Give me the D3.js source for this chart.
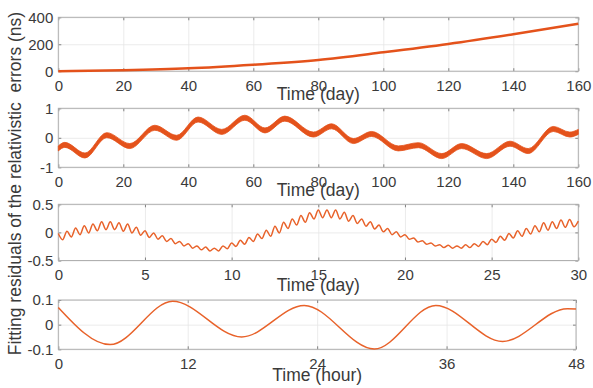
<!DOCTYPE html>
<html>
<head>
<meta charset="utf-8">
<script src="https://cdn.jsdelivr.net/npm/d3@7"></script>
<style>
  body { margin: 0; background: #fff; }
  svg { display: block; font-family: "Liberation Sans", Arial, sans-serif; }
</style>
</head>
<body>
<div id="chart"></div>
<script>
// Panel 1: relativistic error over 160 days (ns)
const days1 = [0, 20, 40, 60, 80, 100, 120, 140, 160];
const err1 = [0, 7, 21, 48, 83, 140, 202, 274, 352];

// Panel 2: fitting residuals over 160 days, slow component (extrema) + band half width
const days2 = [0, 2, 8.2, 14.9, 22, 29.7, 36.4, 43, 50.3, 57.4, 63.6, 69.7, 78.5, 84.1,
  90.8, 96.4, 104.6, 110.8, 118, 124.1, 131.8, 139, 144.6, 152.3, 157.4, 160];
const res2 = [-0.36, -0.24, -0.6, 0.09, -0.28, 0.34, 0.0, 0.62, 0.2, 0.68, 0.25, 0.65, 0.11, 0.39,
  -0.11, 0.13, -0.36, -0.25, -0.62, -0.28, -0.62, -0.2, -0.45, 0.3, 0.11, 0.2];
const band2 = 0.085;

// Panel 3: residuals over 30 days, read every quarter day (alternating peaks / troughs)
const step3 = 0.25;
const res3 = [
  -0.02, -0.13, 0.02, -0.08, 0.08, -0.04, 0.12, -0.01, 0.15, 0.03, 0.19, 0.05,
  0.19, 0.05, 0.17, 0.02, 0.15, -0.01, 0.09, -0.05, 0.03, -0.09, -0.01, -0.12,
  -0.06, -0.16, -0.11, -0.20, -0.16, -0.24, -0.20, -0.28, -0.24, -0.31, -0.26, -0.33,
  -0.28, -0.33, -0.24, -0.29, -0.19, -0.25, -0.14, -0.21, -0.09, -0.16, -0.03, -0.11,
  0.04, -0.07, 0.11, -0.01, 0.18, 0.07, 0.24, 0.13, 0.30, 0.18, 0.35, 0.24,
  0.40, 0.26, 0.40, 0.26, 0.40, 0.24, 0.36, 0.20, 0.30, 0.16, 0.24, 0.11,
  0.19, 0.06, 0.13, 0.01, 0.07, -0.04, 0.01, -0.08, -0.04, -0.12, -0.10, -0.17,
  -0.15, -0.21, -0.19, -0.24, -0.22, -0.27, -0.23, -0.28, -0.24, -0.28, -0.22, -0.27,
  -0.20, -0.25, -0.16, -0.22, -0.12, -0.18, -0.07, -0.14, -0.02, -0.10, 0.03, -0.07,
  0.07, -0.03, 0.12, 0.01, 0.17, 0.04, 0.19, 0.07, 0.22, 0.09, 0.23, 0.10, 0.20
];
const days3 = res3.map((_, i) => i * step3);

// Panel 4: residuals over 48 hours (extrema)
const hours4 = [0, 4.8, 10.6, 17, 22.8, 29.3, 35, 41.2, 47.2, 48];
const res4 = [0.07, -0.081, 0.095, -0.05, 0.078, -0.099, 0.078, -0.068, 0.065, 0.063];

const width = 593;
const height = 388;
const left = 58.3;

const lineColor = '#e4521b';
const thinColor = '#e8622a';
const textColor = '#3a3a3a';
const gridColor = '#e6e6e6';
const boxColor = '#b0b0b0';
const tickColor = '#666666';

const panels = [
  { top: 17.3, bottom: 71.2, right: 578.3, xDomain: [0, 160], xTicks: d3.range(0, 161, 20),
    yDomain: [0, 400], yTicks: [0, 200, 400], label: 'Time (day)', labelGap: 29 },
  { top: 108.3, bottom: 167.3, right: 578.3, xDomain: [0, 160], xTicks: d3.range(0, 161, 20),
    yDomain: [-1, 1], yTicks: [-1, 0, 1], label: 'Time (day)', labelGap: 29 },
  { top: 204.3, bottom: 260.5, right: 578.3, xDomain: [0, 30], xTicks: d3.range(0, 31, 5),
    yDomain: [-0.5, 0.5], yTicks: [-0.5, 0, 0.5], label: 'Time (day)', labelGap: 30 },
  { top: 300, bottom: 349.3, right: 576, xDomain: [0, 48], xTicks: [0, 12, 24, 36, 48],
    yDomain: [-0.1, 0.1], yTicks: [-0.1, 0, 0.1], label: 'Time (hour)', labelGap: 32 },
];

const svg = d3.select('#chart')
  .append('svg')
  .attr('width', width)
  .attr('height', height);

const fmt = (d) => String(d);

panels.forEach((p, i) => {
  const x = d3.scaleLinear().domain(p.xDomain).range([left, p.right]);
  const y = d3.scaleLinear().domain(p.yDomain).range([p.bottom, p.top]);
  p.x = x;
  p.y = y;
  const h = p.bottom - p.top;
  const w = p.right - left;

  const g = svg.append('g').attr('class', 'panel' + (i + 1));

  // grid
  const gx = g.append('g')
    .attr('transform', `translate(0,${p.bottom})`)
    .call(d3.axisBottom(x).tickValues(p.xTicks).tickSize(-h).tickFormat(''));
  const gy = g.append('g')
    .attr('transform', `translate(${left},0)`)
    .call(d3.axisLeft(y).tickValues(p.yTicks).tickSize(-w).tickFormat(''));
  [gx, gy].forEach((a) => {
    a.select('.domain').remove();
    a.selectAll('line').attr('stroke', gridColor).attr('stroke-width', 0.8);
  });

  // inward tick marks on all four sides
  const tk = 3;
  const marks = [
    [d3.axisBottom(x).tickValues(p.xTicks), `translate(0,${p.bottom})`],
    [d3.axisTop(x).tickValues(p.xTicks), `translate(0,${p.top})`],
    [d3.axisLeft(y).tickValues(p.yTicks), `translate(${left},0)`],
    [d3.axisRight(y).tickValues(p.yTicks), `translate(${p.right},0)`],
  ];
  marks.forEach(([ax, tr]) => {
    const a = g.append('g').attr('transform', tr).call(ax.tickSize(-tk).tickFormat(''));
    a.select('.domain').remove();
    a.selectAll('line').attr('stroke', tickColor).attr('stroke-width', 0.8);
  });

  // box
  g.append('rect')
    .attr('x', left)
    .attr('y', p.top)
    .attr('width', w)
    .attr('height', h)
    .attr('fill', 'none')
    .attr('stroke', boxColor)
    .attr('stroke-width', 1);

  // tick labels
  const xl = g.append('g')
    .attr('transform', `translate(0,${p.bottom})`)
    .call(d3.axisBottom(x).tickValues(p.xTicks).tickSize(0).tickPadding(9).tickFormat(fmt));
  const yl = g.append('g')
    .attr('transform', `translate(${left},0)`)
    .call(d3.axisLeft(y).tickValues(p.yTicks).tickSize(0).tickPadding(5).tickFormat(fmt));
  [xl, yl].forEach((a) => {
    a.select('.domain').remove();
    a.selectAll('text')
      .attr('fill', textColor)
      .style('font-size', '15px')
      .style('font-family', '"Liberation Sans", Arial, sans-serif');
  });

  // axis title
  g.append('text')
    .attr('x', (left + p.right) / 2)
    .attr('y', p.bottom + p.labelGap)
    .attr('text-anchor', 'middle')
    .attr('fill', textColor)
    .style('font-size', '17.5px')
    .text(p.label);
});

// data
const [p1, p2, p3, p4] = panels;

svg.append('path')
  .datum(days1.map((d, i) => [d, err1[i]]))
  .attr('fill', 'none')
  .attr('stroke', lineColor)
  .attr('stroke-width', 2.5)
  .attr('d', d3.line().x((d) => p1.x(d[0])).y((d) => p1.y(d[1])).curve(d3.curveMonotoneX));

svg.append('path')
  .datum(days2.map((d, i) => [d, res2[i]]))
  .attr('fill', lineColor)
  .attr('stroke', lineColor)
  .attr('stroke-width', 0.8)
  .attr('d', d3.area()
    .x((d) => p2.x(d[0]))
    .y0((d) => p2.y(d[1] - band2))
    .y1((d) => p2.y(d[1] + band2))
    .curve(d3.curveMonotoneX));

svg.append('path')
  .datum(days3.map((d, i) => [d, res3[i]]))
  .attr('fill', 'none')
  .attr('stroke', thinColor)
  .attr('stroke-width', 1.5)
  .attr('d', d3.line().x((d) => p3.x(d[0])).y((d) => p3.y(d[1])).curve(d3.curveMonotoneX));

svg.append('path')
  .datum(hours4.map((d, i) => [d, res4[i]]))
  .attr('fill', 'none')
  .attr('stroke', thinColor)
  .attr('stroke-width', 1.5)
  .attr('d', d3.line().x((d) => p4.x(d[0])).y((d) => p4.y(d[1])).curve(d3.curveMonotoneX));

// shared y label
svg.append('text')
  .attr('transform', 'translate(21,183.5) rotate(-90)')
  .attr('text-anchor', 'middle')
  .attr('fill', textColor)
  .style('font-size', '17.5px')
  .style('white-space', 'pre')
  .text('Fitting residuals of the relativistic  errors (ns)');
</script>
</body>
</html>
